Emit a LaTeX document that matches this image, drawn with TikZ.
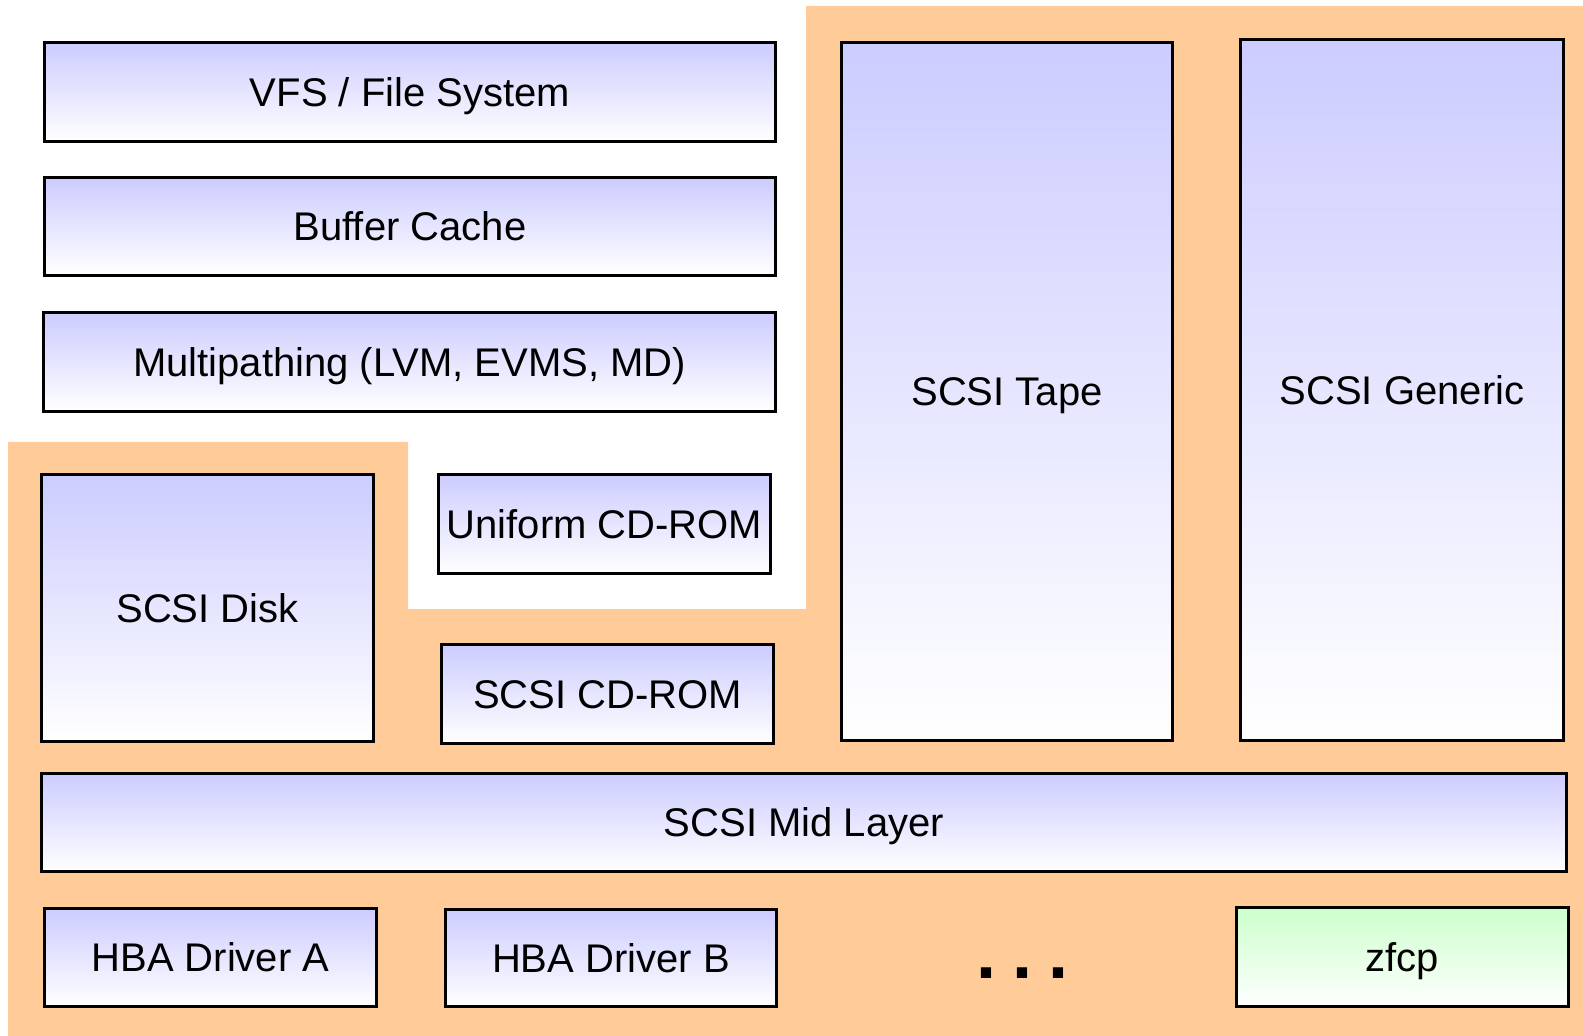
\documentclass[tikz,border=0pt]{standalone}
\usepackage{fontspec}
\setmainfont{Liberation Sans}
\usetikzlibrary{shadings}
\definecolor{orangebg}{RGB}{255,204,153}
\definecolor{bluetop}{RGB}{204,204,255}
\definecolor{greentop}{RGB}{204,255,204}
\tikzset{
  box/.style={draw=black, line width=1.5pt, inner sep=0pt,
    top color=bluetop, bottom color=white,
    text height=14.4pt, text depth=0pt,
    font=\fontsize{20}{24}\selectfont},
  greenbox/.style={box, top color=greentop, bottom color=white},
}
\newcommand{\mybox}[7]{%
  \node[#6, minimum width={(#4-3)*0.5pt}, minimum height={(#5-3)*0.5pt}] (#1) at (#2,#3) {#7};}
\begin{document}
\begin{tikzpicture}[x=0.5pt,y=-0.5pt]
\useasboundingbox (0,0) rectangle (1583,1036);
\fill[orangebg] (8,442) -- (408,442) -- (408,609) -- (806,609) -- (806,6)
  -- (1583,6) -- (1583,1036) -- (8,1036) -- cycle;
\mybox{vfs}{410}{92}{734}{102}{box}{VFS / File System}
\mybox{buf}{410}{226.5}{734}{101}{box}{Buffer Cache}
\mybox{multi}{409.5}{362}{735}{102}{box}{Multipathing (LVM, EVMS, MD)}
\mybox{ucd}{604.5}{524}{335}{102}{box}{Uniform CD-ROM}
\mybox{disk}{207.5}{608}{335}{270}{box}{SCSI Disk}
\mybox{cdrom}{607.5}{694}{335}{102}{box}{SCSI CD-ROM}
\mybox{tape}{1007}{391.5}{334}{701}{box}{SCSI Tape}
\mybox{generic}{1402}{390}{326}{704}{box}{SCSI Generic}
\mybox{mid}{804}{822.5}{1528}{101}{box}{SCSI Mid Layer}
\mybox{hbaa}{210.5}{957.5}{335}{101}{box}{HBA Driver A}
\mybox{hbab}{611}{958}{334}{100}{box}{HBA Driver B}
\mybox{zfcp}{1402.5}{957}{335}{102}{greenbox}{zfcp}
\node[inner sep=0pt, font=\fontsize{36}{40}\selectfont\bfseries] (dots) at (1022,973) {.\hspace{8pt}.\hspace{8pt}.};
\end{tikzpicture}
\end{document}
